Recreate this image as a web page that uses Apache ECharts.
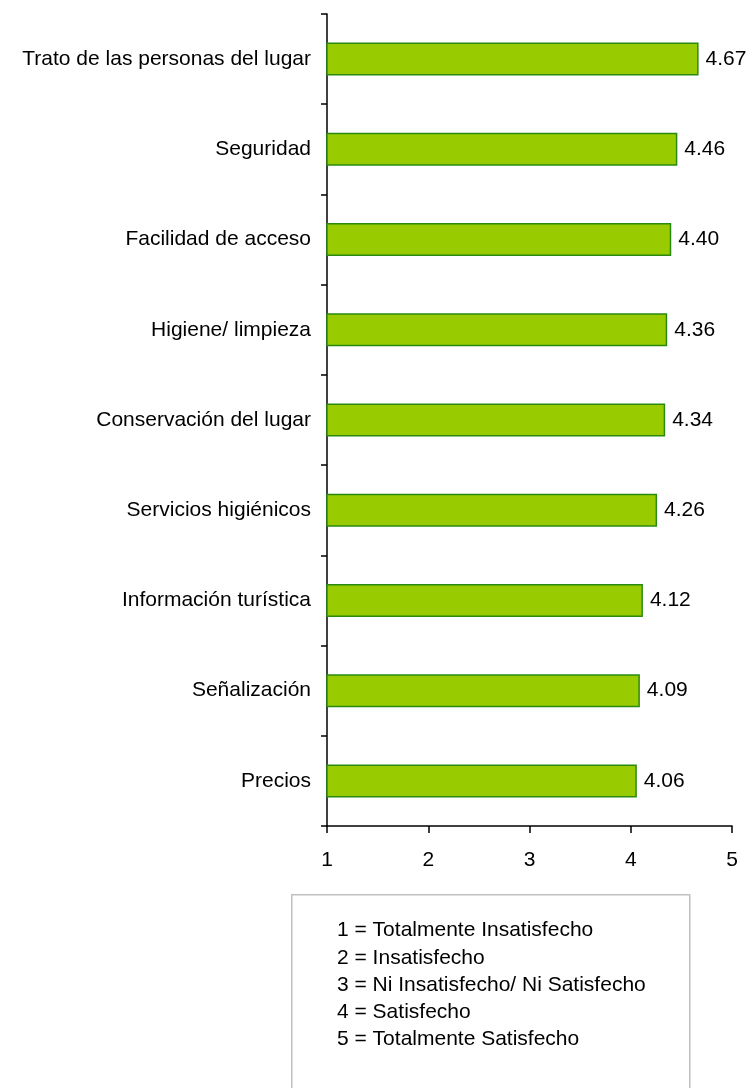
<!DOCTYPE html>
<html>
<head>
<meta charset="utf-8">
<script src="https://cdn.jsdelivr.net/npm/echarts@6/dist/echarts.min.js"></script>
<style>
  html, body { margin: 0; padding: 0; background: #fff; }
  #chart { width: 749px; height: 1088px; }
</style>
</head>
<body>
<div id="chart"></div>
<script>
// Aspectos evaluados (de arriba hacia abajo)
const categorias = [
    'Trato de las personas del lugar',
    'Seguridad',
    'Facilidad de acceso',
    'Higiene/ limpieza',
    'Conservación del lugar',
    'Servicios higiénicos',
    'Información turística',
    'Señalización',
    'Precios'
];
const promedios = [4.67, 4.46, 4.40, 4.36, 4.34, 4.26, 4.12, 4.09, 4.06];
const escala = [
    '1 = Totalmente Insatisfecho',
    '2 = Insatisfecho',
    '3 = Ni Insatisfecho/ Ni Satisfecho',
    '4 = Satisfecho',
    '5 = Totalmente Satisfecho'
];

const fuente = 'Liberation Sans, Arial, sans-serif';
const tam = 21;

const chart = echarts.init(document.getElementById('chart'), null, { renderer: 'canvas' });

// texto de la leyenda de escala
const lineasEscala = escala.map(function (t, i) {
    return {
        type: 'text',
        left: 337,
        top: 920 + i * 27.3,
        style: { text: t, fill: '#000', font: tam + 'px ' + fuente }
    };
});

const option = {
    animation: false,
    grid: { left: 327, right: 17, top: 14, bottom: 262, containLabel: false },
    xAxis: {
        type: 'value',
        min: 1,
        max: 5,
        interval: 1,
        splitLine: { show: false },
        axisLine: { show: true, lineStyle: { color: '#000', width: 1.5 } },
        axisTick: { show: true, length: 7, lineStyle: { color: '#000', width: 1.5 } },
        axisLabel: { color: '#000', fontSize: tam, fontFamily: fuente, margin: 24 }
    },
    yAxis: {
        type: 'category',
        inverse: true,
        data: categorias,
        axisLine: { show: true, lineStyle: { color: '#000', width: 1.5 } },
        axisTick: { show: true, length: 6, alignWithLabel: false, lineStyle: { color: '#000', width: 1.5 } },
        axisLabel: { color: '#000', fontSize: tam, fontFamily: fuente, margin: 16 }
    },
    series: [{
        type: 'bar',
        data: promedios,
        barWidth: 33,
        itemStyle: { color: '#99cc00', borderColor: '#2a8a10', borderWidth: 1.5 },
        label: {
            show: true,
            position: 'right',
            distance: 7,
            color: '#000',
            fontSize: tam,
            fontFamily: fuente,
            formatter: function (p) { return p.value.toFixed(2); }
        }
    }],
    graphic: [{
        type: 'rect',
        left: 291,
        top: 894,
        shape: { width: 398, height: 220 },
        style: { fill: '#fff', stroke: '#c0c0c0', lineWidth: 1.5 }
    }].concat(lineasEscala)
};

chart.setOption(option);
window.addEventListener('resize', chart.resize);
</script>
</body>
</html>
